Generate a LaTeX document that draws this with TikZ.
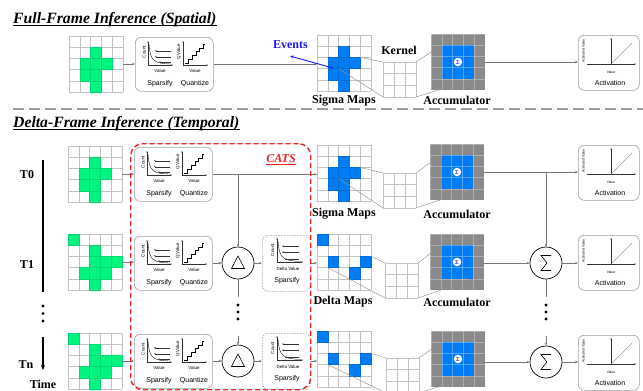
\documentclass[tikz,border=0pt]{standalone}
\usepackage{fontspec}
\setmainfont{Liberation Serif}
\newfontfamily\arialfam{Liberation Sans}
\usetikzlibrary{calc,arrows.meta}

\definecolor{cellgreen}{RGB}{0,245,128}
\definecolor{cellblue}{RGB}{0,125,245}
\definecolor{accgray}{RGB}{138,138,138}
\definecolor{lngray}{RGB}{120,120,120}
\definecolor{gridgray}{RGB}{195,195,195}
\definecolor{evblue}{RGB}{25,25,230}
\definecolor{catsred}{RGB}{235,35,35}
\definecolor{sigblue}{RGB}{70,60,220}

\tikzset{
  gridln/.style={draw=gridgray, line width=0.5pt},
  accln/.style={draw=white, draw opacity=0.3, line width=0.5pt},
  conn/.style={draw=lngray, line width=0.5pt, -{Stealth[length=3pt,width=2.4pt]}},
  wire/.style={draw=lngray, line width=0.5pt},
  projln/.style={draw=gray!85, line width=0.45pt},
  pnl/.style={draw=gray!75, rounded corners=6pt, line width=0.6pt, fill=white, inner sep=0},
  dpnl/.style={pnl, dash pattern=on 1.5pt off 1.2pt},
  lbltiny/.style={font=\arialfam\fontsize{4.5}{5}\selectfont, inner sep=0},
  lblact/.style={font=\arialfam\fontsize{3.4}{4}\selectfont, inner sep=0},
  lblsmall/.style={font=\arialfam\fontsize{7}{8}\selectfont, inner sep=0},
  lblbold/.style={font=\bfseries\fontsize{12}{13}\selectfont, inner sep=0},
  titletext/.style={font=\bfseries\itshape\fontsize{15.7}{17}\selectfont, inner sep=0, anchor=base west},
  axarrow/.style={draw=black!80, line width=0.35pt, -{Stealth[length=1.6pt,width=1.3pt]}},
  opcircle/.style={circle, draw=black, line width=0.7pt, minimum size=32pt, inner sep=0, fill=white},
}

% 5x5 feature map: name, x, y (top left), fill colour, filled cells col/row
\newcommand\mapgrid[5]{%
  \node[inner sep=0, outer sep=0, minimum width=54pt, minimum height=56pt, anchor=north west, fill=white] (#1) at (#2,#3) {};
  \foreach \i in {0,...,5} {%
    \draw[gridln] ($(#1.north west)+(\i*10.8,0)$) -- ++(0,56);
    \draw[gridln] ($(#1.north west)+(0,\i*11.2)$) -- ++(54,0);}
  \foreach \cc/\rr in {#5} {\filldraw[fill=#4, draw=#4!88!black, line width=0.3pt] ($(#1.north west)+(\cc*10.8,\rr*11.2)$) rectangle ++(10.8,11.2);}
}

% 3x3 kernel: name, x, y
\newcommand\kgrid[3]{%
  \node[inner sep=0, outer sep=0, minimum width=33pt, minimum height=35pt, anchor=north west, fill=white] (#1) at (#2,#3) {};
  \foreach \i in {0,...,3} {%
    \draw[gridln] ($(#1.north west)+(\i*11,0)$) -- ++(0,35);
    \draw[gridln] ($(#1.north west)+(0,\i*11.667)$) -- ++(33,0);}
}

% accumulator: grey 5x5 with blue 3x3 core and a sigma mark
\newcommand\accgrid[3]{%
  \node[inner sep=0, outer sep=0, minimum width=54pt, minimum height=56pt, anchor=north west, fill=accgray] (#1) at (#2,#3) {};
  \fill[cellblue] ($(#1.north west)+(10.8,11.2)$) rectangle ++(32.4,33.6);
  \foreach \i in {0,...,5} {%
    \draw[accln] ($(#1.north west)+(\i*10.8,0)$) -- ++(0,56);
    \draw[accln] ($(#1.north west)+(0,\i*11.2)$) -- ++(54,0);}
  \node[circle, fill=white, inner sep=0, minimum size=8.5pt, text=sigblue,
        font=\arialfam\bfseries\fontsize{6}{6}\selectfont] (#1s) at (#1.center) {Σ};
}

% sparsify + quantize panel
\newcommand\sqbox[3]{%
  \node[pnl, minimum width=78pt, minimum height=54pt, anchor=north west] (#1) at (#2,#3) {};
  \begin{scope}[shift={(#1.north west)}]
    \draw[axarrow] (13,28) -- (13,4);
    \draw[axarrow] (13,28) -- (38,28);
    \node[lbltiny, rotate=90] (#1-cnt) at (9,15) {Count};
    \draw[line width=0.35pt] (14,7) .. controls (15,25) and (20,26.5) .. (36,27);
    \foreach \yy/\xx in {13.7/20, 19.7/20, 25/24} {\draw[axarrow] (36,\yy) -- (\xx,\yy);}
    \node[lbltiny] (#1-va) at (25,34) {Value};
    \draw[axarrow] (48,28) -- (48,4);
    \draw[axarrow] (48,28) -- (73,28);
    \node[lbltiny, rotate=90] (#1-qv) at (44,15) {Q Value};
    \draw[line width=0.35pt] (50,26) -| (53.6,22.2) -| (57.2,18.4) -| (60.8,14.6) -| (64.4,10.8) -| (68,7) -- (70,7);
    \node[lbltiny] (#1-vb) at (60,34) {Value};
    \node[lblsmall] (#1-sp) at (25,47) {Sparsify};
    \node[lblsmall] (#1-qz) at (60,47) {Quantize};
  \end{scope}
}

% sparsify-only panel for deltas (dashed)
\newcommand\spbox[3]{%
  \node[dpnl, minimum width=48pt, minimum height=56pt, anchor=north west] (#1) at (#2,#3) {};
  \begin{scope}[shift={(#1.north west)}]
    \draw[axarrow] (15,27) -- (15,3);
    \draw[axarrow] (15,27) -- (41,27);
    \node[lbltiny, rotate=90] (#1-cnt) at (10.5,15) {Count};
    \draw[line width=0.35pt] (16,6) .. controls (17,24) and (22,26) .. (39,26.3);
    \foreach \yy/\xx in {11/20, 17/20, 24.3/23} {\draw[axarrow] (37,\yy) -- (\xx,\yy);}
    \node[lbltiny] (#1-dv) at (26,34) {Delta Value};
    \node[lblsmall] (#1-sp) at (25,45.5) {Sparsify};
  \end{scope}
}

% activation panel
\newcommand\actbox[3]{%
  \node[pnl, minimum width=61pt, minimum height=55pt, anchor=north west] (#1) at (#2,#3) {};
  \begin{scope}[shift={(#1.north west)}]
    \draw[axarrow] (33,29) -- (33,3);
    \draw[axarrow] (9,29) -- (58,29);
    \draw[line width=0.35pt, draw=gray] (33,29) -- (54,8);
    \node[lblact, rotate=90] (#1-av) at (5.5,16) {Activated Value};
    \node[lblact] (#1-va) at (33,37) {Value};
    \node[lblsmall] (#1-lb) at (32,48) {Activation};
  \end{scope}
}

% difference and sum operators
\newcommand\deltaop[3]{%
  \node[opcircle] (#1) at (#2,#3) {};
  \draw[line width=0.6pt] ($(#1)+(0,-7)$) -- ($(#1)+(-6.5,5.5)$) -- ($(#1)+(6.5,5.5)$) -- cycle;
}
\newcommand\sumop[3]{%
  \node[opcircle] (#1) at (#2,#3) {};
  \draw[line width=0.6pt] ($(#1)+(5,-7.5)$) -- ($(#1)+(-5,-7.5)$) -- ($(#1)+(1,0)$) -- ($(#1)+(-5,7.5)$) -- ($(#1)+(5,7.5)$);
}

% three stacked dots
\newcommand\stackdots[3]{%
  \fill (#1,#2) circle (1.6) (#1,{(#2+#3)/2}) circle (1.6) (#1,#3) circle (1.6);
}

\begin{document}
\begin{tikzpicture}[x=1pt, y=-1pt]
\useasboundingbox (0,0) rectangle (643,391);
\fill[white] (0,0) rectangle (643,391);

% ---------- headings and separator ----------
\node[titletext] (ttl1) at (13,23) {Full-Frame Inference (Spatial)};
\draw[line width=1.1pt] ($(ttl1.base west)+(0,2.6)$) -- ($(ttl1.base east)+(0,2.6)$);
\node[titletext] (ttl2) at (13,127) {Delta-Frame Inference (Temporal)};
\draw[line width=1.1pt] ($(ttl2.base west)+(0,2.6)$) -- ($(ttl2.base east)+(0,2.6)$);
\draw[gray!75, line width=1.6pt, dash pattern=on 11pt off 5pt] (13,109) -- (643,109);

% ---------- full-frame pipeline ----------
\mapgrid{ffin}{69}{36}{cellgreen}{2/1,1/2,2/2,3/2,1/3,2/3,2/4}
\sqbox{ffsq}{135}{37}
\mapgrid{ffsig}{317}{35}{cellblue}{2/1,1/2,2/2,3/2,1/3,2/3,2/4}
\kgrid{ffk}{383}{62}
\accgrid{ffacc}{431}{34}
\actbox{ffact}{578}{35}

\draw[conn] (ffin.east) -- (ffin.east -| ffsq.west);
\draw[conn] (ffsq.east) -- (ffsq.east -| ffsig.west);
\draw[conn] (ffacc.east) -- (ffacc.east -| ffact.west);
\draw[projln] ($(ffsig.north west)+(43.2,22.4)$) -- (ffk.north west);
\draw[projln] ($(ffsig.north west)+(21.6,33.6)$) -- (ffk.south west);
\draw[projln] (ffk.north east) -- ($(ffacc.north west)+(10.8,11.2)$);
\draw[projln] (ffk.south east) -- ($(ffacc.north west)+(43.2,44.8)$);

\node[lblbold, text=evblue] (ev) at (290.5,45) {Events};
\coordinate (evsrc) at (333,68);
\coordinate (evtip) at (290,56);
\draw[evblue, line width=0.9pt, -{Stealth[length=4pt,width=3pt]}] (evsrc) -- (evtip);

\node[lblbold] (lkern) at (399,50) {Kernel};
\node[lblbold] (lffsig) at (344,101) {Sigma Maps};
\node[lblbold] (lffacc) at (457,100) {Accumulator};

% ---------- delta-frame pipeline: T0 ----------
\mapgrid{in0}{68}{146}{cellgreen}{2/1,1/2,2/2,3/2,1/3,2/3,2/4}
\sqbox{sq0}{134}{147}
\mapgrid{sig0}{317}{145}{cellblue}{2/1,1/2,2/2,3/2,1/3,2/3,2/4}
\kgrid{k0}{383}{173}
\accgrid{acc0}{430}{144}
\actbox{act0}{578}{145}

% ---------- T1 ----------
\mapgrid{in1}{68}{234}{cellgreen}{0/0,2/1,2/2,3/2,4/2,1/3,2/3,3/3,2/4}
\sqbox{sq1}{134}{236}
\deltaop{dl1}{238}{263}
\spbox{sp1}{262}{235}
\mapgrid{dm1}{317}{234}{cellblue}{0/0,1/2,4/2,3/3}
\kgrid{k1}{385}{263}
\accgrid{acc1}{430}{234}
\sumop{sm1}{546}{263}
\actbox{act1}{578}{235}

% ---------- Tn ----------
\mapgrid{inn}{68}{333}{cellgreen}{0/0,2/1,2/2,3/2,4/2,1/3,2/3,3/3,2/4}
\sqbox{sqn}{134}{334}
\deltaop{dln}{238}{361}
\spbox{spn}{262}{333}
\mapgrid{dmn}{317}{331}{cellblue}{0/0,1/2,4/2,3/3}
\kgrid{kn}{386}{358}
\accgrid{accn}{431}{331}
\sumop{smn}{546}{362}
\actbox{actn}{578}{335}

% connectors, T0
\draw[conn] (in0.east) -- (in0.east -| sq0.west);
\draw[conn] (sq0.east) -- (sq0.east -| sig0.west);
\draw[conn] (acc0.east) -- (acc0.east -| act0.west);
\draw[conn] (sq0.east -| dl1.north) -- (dl1.north);
\draw[conn] (acc0.east -| sm1.north) -- (sm1.north);
\draw[projln] ($(sig0.north west)+(43.2,22.4)$) -- (k0.north west);
\draw[projln] ($(sig0.north west)+(21.6,33.6)$) -- (k0.south west);
\draw[projln] (k0.north east) -- ($(acc0.north west)+(10.8,11.2)$);
\draw[projln] (k0.south east) -- ($(acc0.north west)+(43.2,44.8)$);

% connectors, T1
\draw[conn] (in1.east) -- (in1.east -| sq1.west);
\draw[conn] (sq1.east |- dl1.west) -- (dl1.west);
\draw[conn] (dl1.east) -- (dl1.east -| sp1.west);
\draw[conn] (sp1.east |- dl1.east) -- (dl1.east -| dm1.west);
\draw[conn] (acc1.east |- sm1.west) -- (sm1.west);
\draw[conn] (sm1.east) -- (sm1.east -| act1.west);
\coordinate (dl1tail) at (238,297);
\coordinate (sm1tail) at (546,297);
\draw[wire] (dl1.south) -- (dl1tail);
\draw[wire] (sm1.south) -- (sm1tail);
\draw[projln] ($(dm1.north west)+(54,22.4)$) -- (k1.north west);
\draw[projln] ($(dm1.north west)+(10.8,33.6)$) -- (k1.south west);
\draw[projln] (k1.north east) -- ($(acc1.north west)+(10.8,11.2)$);
\draw[projln] (k1.south east) -- ($(acc1.north west)+(43.2,44.8)$);

% connectors, Tn
\coordinate (dlnhead) at (238,336);
\coordinate (smnhead) at (546,336);
\draw[conn] (dlnhead) -- (dln.north);
\draw[conn] (smnhead) -- (smn.north);
\draw[conn] (inn.east) -- (inn.east -| sqn.west);
\draw[conn] (sqn.east |- dln.west) -- (dln.west);
\draw[conn] (dln.east) -- (dln.east -| spn.west);
\draw[conn] (spn.east |- dln.east) -- (dln.east -| dmn.west);
\draw[conn] (accn.east |- smn.west) -- (smn.west);
\draw[conn] (smn.east) -- (smn.east -| actn.west);
\draw[projln] ($(dmn.north west)+(54,22.4)$) -- (kn.north west);
\draw[projln] ($(dmn.north west)+(10.8,33.6)$) -- (kn.south west);
\draw[projln] (kn.north east) -- ($(accn.north west)+(10.8,11.2)$);
\draw[projln] (kn.south east) -- ($(accn.north west)+(43.2,44.8)$);

\stackdots{238}{305}{319}
\stackdots{546}{305}{319}

% labels
\node[lblbold] (lsig0) at (344,214) {Sigma Maps};
\node[lblbold] (lacc0) at (457,214) {Accumulator};
\node[lblbold] (ldm1) at (343,302) {Delta Maps};
\node[lblbold] (lacc1) at (457,302) {Accumulator};

% CATS region
\node[draw=catsred, line width=1.4pt, dash pattern=on 5pt off 3pt, rounded corners=12pt,
      minimum width=180pt, minimum height=246pt, anchor=north west, inner sep=0] (catsbox) at (130,143) {};
\node[lblbold, font=\bfseries\itshape\fontsize{12}{13}\selectfont, text=catsred] (cats) at (281,159) {CATS};
\draw[catsred, line width=0.8pt] ($(cats.base west)+(0,1.6)$) -- ($(cats.base east)+(0,1.6)$);

% time axis
\node[lblbold] (lt0) at (27,175) {T0};
\node[lblbold] (lt1) at (27,265) {T1};
\node[lblbold] (ltn) at (26,365) {Tn};
\node[lblbold] (ltime) at (43,384) {Time};
\coordinate (ta0) at (43,160);
\coordinate (ta1) at (43,292);
\coordinate (ta2) at (43,337);
\coordinate (ta3) at (43,370);
\draw[line width=1.1pt] (ta0) -- (ta1);
\draw[line width=1.1pt, -{Stealth[length=5pt,width=4pt]}] (ta2) -- (ta3);
\stackdots{43}{306}{321}
\end{tikzpicture}
\end{document}
